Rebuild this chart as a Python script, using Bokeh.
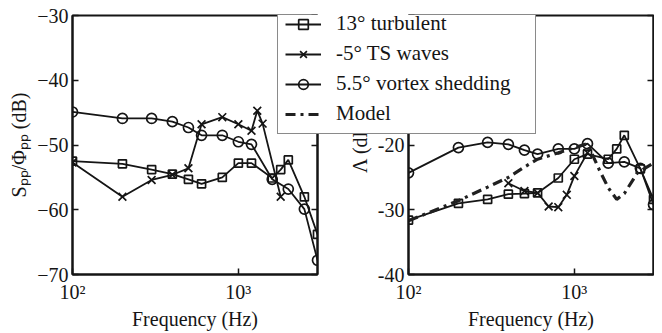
from bokeh.plotting import figure
from bokeh.models import Legend, LegendItem, LinearAxis, FixedTicker, CustomJSTickFormatter, Range1d
from bokeh.layouts import row
from bokeh.embed import file_html
from bokeh.resources import INLINE

# ---------------- data ----------------
# Left panel: S_pp / Phi_pp (dB)
freq_turb_L = [100, 200, 300, 400, 500, 600, 800, 1000, 1200, 1600, 1800, 2000, 2500, 3000]
spp_turb = [-52.5, -52.9, -53.8, -54.5, -55.3, -56.0, -55.0, -52.8, -52.8, -55.1, -53.8, -52.3, -58.0, -63.8]

freq_ts_L = [100, 200, 300, 400, 500, 600, 800, 1000, 1200, 1300, 1400, 1800]
spp_ts = [-52.7, -58.0, -55.4, -54.6, -53.6, -46.8, -45.7, -46.8, -47.8, -44.7, -46.7, -58.0]

freq_vs_L = [100, 200, 300, 400, 500, 600, 800, 1000, 1200, 1600, 2000, 2500, 3000]
spp_vs = [-44.9, -45.9, -45.9, -46.4, -47.3, -48.5, -48.5, -49.5, -49.9, -55.3, -56.8, -59.9, -67.8]

# Right panel: Lambda (dB)
freq_turb_R = [100, 200, 300, 400, 500, 600, 800, 1000, 1200, 1600, 1800, 2000, 2500, 3000]
lam_turb = [-31.6, -29.0, -28.4, -27.6, -27.5, -27.4, -25.1, -22.2, -21.4, -22.2, -20.6, -18.5, -23.7, -28.4]

freq_ts_R = [400, 500, 600, 700, 800, 900, 1000, 1200]
lam_ts = [-25.9, -27.1, -27.4, -29.5, -29.6, -27.7, -24.8, -21.2]

freq_vs_R = [100, 200, 300, 400, 500, 600, 800, 1000, 1200, 1600, 2000, 2500, 3000]
lam_vs = [-24.3, -20.4, -19.6, -19.9, -20.8, -21.4, -20.6, -20.6, -19.8, -22.8, -22.6, -23.6, -29.2]

freq_model = [100, 200, 300, 400, 500, 600, 800, 1000, 1200, 1400, 1600, 1800, 2000, 2400, 3000]
lam_model = [-31.7, -28.6, -26.5, -25.0, -23.4, -22.2, -21.2, -20.4, -19.8, -23.6, -26.6, -28.4, -27.5, -24.3, -22.8]

x_ticks = [100, 1000]
left_y_ticks = [-70, -60, -50, -40, -30]
right_y_ticks = [-40, -30, -20, -10, 0]
right_labelled_max = -20   # labels above this sit under the legend in the reference

labels = ["13° turbulent", "-5° TS waves", "5.5° vortex shedding", "Model"]

FONT = "Liberation Serif"
INK = "#151515"
NAN = float("nan")


def style(p, yticks, ylabel, label_max=None):
    p.grid.visible = False
    p.outline_line_color = INK
    p.outline_line_width = 2
    p.xaxis.ticker = FixedTicker(ticks=x_ticks)
    p.xaxis.formatter = CustomJSTickFormatter(code="return tick >= 999 ? '10\u00b3' : '10\u00b2'")
    p.yaxis.ticker = FixedTicker(ticks=yticks)
    if label_max is not None:
        p.yaxis.formatter = CustomJSTickFormatter(args=dict(m=label_max),
                                                  code="return tick > m ? '' : String(tick)")
    p.xaxis.axis_label = "Frequency (Hz)"
    p.yaxis.axis_label = ylabel
    ra = LinearAxis(ticker=FixedTicker(ticks=yticks),
                    formatter=CustomJSTickFormatter(code="return ''"),
                    major_label_standoff=0)
    p.add_layout(ra, "right")
    for ax in p.axis:
        ax.axis_line_color = INK
        ax.axis_line_width = 2
        ax.major_tick_in = 6
        ax.major_tick_out = 0
        ax.major_tick_line_color = INK
        ax.major_tick_line_width = 1.5
        ax.minor_tick_line_color = None
        ax.major_label_text_font = FONT
        ax.major_label_text_font_size = "20px"
        ax.major_label_text_color = INK
        ax.axis_label_text_font = FONT
        ax.axis_label_text_font_size = "20px"
        ax.axis_label_text_font_style = "normal"
        ax.axis_label_text_color = INK
    for ax in p.yaxis:
        if ax is not ra:
            ax.major_label_standoff = 4
            ax.axis_label_standoff = 4
    ra.major_label_standoff = 0
    for ax in p.xaxis:
        ax.major_label_standoff = 6
        ax.axis_label_standoff = 2


def series(p, fx, fy, marker, size):
    l = p.line(fx, fy, line_color=INK, line_width=1.8)
    s = p.scatter(fx, fy, marker=marker, size=size, fill_color=None,
                  line_color=INK, line_width=1.7)
    return [l, s]


H = 332
left = figure(width=322, height=H, x_axis_type="log", x_range=(100, 3000), y_range=(-70, -30),
              output_backend="svg", toolbar_location=None,
              min_border_left=72, min_border_right=5, min_border_top=15, min_border_bottom=57)
style(left, left_y_ticks, "S\u209a\u209a/\u03a6\u209a\u209a (dB)")
series(left, freq_turb_L, spp_turb, "square", 8)
series(left, freq_ts_L, spp_ts, "x", 11)
series(left, freq_vs_L, spp_vs, "circle", 10)

right = figure(width=384, height=H, x_axis_type="log", x_range=(100, 3000), y_range=(-40, 0),
               output_backend="svg", toolbar_location=None,
               min_border_left=138, min_border_right=1, min_border_top=15, min_border_bottom=57,
               background_fill_color=None, border_fill_color=None, margin=(0, 0, 0, -52))
style(right, right_y_ticks, "\u039b (dB)", label_max=right_labelled_max)
series(right, freq_turb_R, lam_turb, "square", 8)
series(right, freq_ts_R, lam_ts, "x", 11)
series(right, freq_vs_R, lam_vs, "circle", 10)
right.line(freq_model, lam_model, line_color="#202020", line_width=3.2, line_dash="10 5 3 5")

# Transparent overlay figure covering the whole page; it only holds the legend,
# so the legend can straddle both panels.
LW = 654
leg = figure(width=LW, height=H, title=None, output_backend="svg", toolbar_location=None,
             x_axis_location=None, y_axis_location=None, min_border=0,
             x_range=Range1d(0, 1), y_range=Range1d(0, 1),
             outline_line_color=None, background_fill_color=None, border_fill_color=None,
             margin=(0, 0, 0, -LW))
leg.grid.visible = False
proxies = []
for mk, sz in [("square", 8), ("x", 11), ("circle", 10)]:
    l = leg.line(x=[NAN], y=[NAN], line_color=INK, line_width=1.8)
    s = leg.scatter(x=[NAN], y=[NAN], marker=mk, size=sz, fill_color=None, line_color=INK, line_width=1.7)
    proxies.append([l, s])
proxies.append([leg.line(x=[NAN], y=[NAN], line_color="#202020", line_width=3.2, line_dash="10 5 3 5")])

legend = Legend(items=[LegendItem(label=lab, renderers=r) for lab, r in zip(labels, proxies)],
                location=(277, 140), orientation="vertical",
                border_line_color=INK, border_line_width=1.2,
                background_fill_color="white", background_fill_alpha=1,
                label_text_font=FONT, label_text_font_size="21px", label_text_color=INK,
                glyph_width=36, glyph_height=24, label_height=24, label_standoff=15,
                spacing=5, padding=7, margin=0, label_width=192)
leg.add_layout(legend, "center")

layout = row(left, right, leg)
open("out.html", "w").write(file_html(layout, INLINE))
